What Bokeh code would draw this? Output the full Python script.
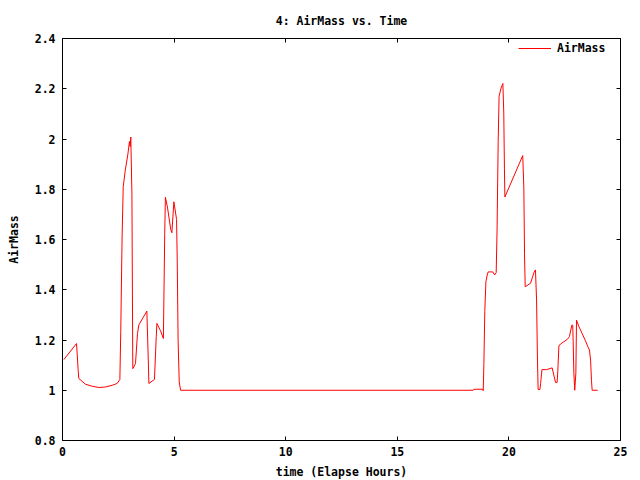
from bokeh.plotting import figure
from bokeh.models import (LinearAxis, FixedTicker, CustomJSTickFormatter,
                          Range1d, Legend, LegendItem)
from bokeh.embed import file_html
from bokeh.resources import INLINE

# ---- data ----
time_hours = [
    0.06, 0.63, 0.70, 0.73, 1.03, 1.33, 1.63, 1.93, 2.23, 2.45, 2.57, 2.61,
    2.67, 2.72, 2.82, 2.93, 3.00, 3.03, 3.06, 3.11, 3.15, 3.27, 3.36, 3.42,
    3.78, 3.85, 3.87, 4.12, 4.20, 4.23, 4.39, 4.52, 4.58, 4.61, 4.70, 4.85,
    4.90, 4.99, 5.11, 5.14, 5.18, 5.23, 5.29,
    18.40, 18.43, 18.82, 18.85, 18.88, 18.92, 18.97, 19.03, 19.07, 19.28,
    19.36, 19.43, 19.47, 19.52, 19.56, 19.65, 19.73, 19.77, 19.80, 19.82,
    20.59, 20.62, 20.67, 20.70, 20.73, 20.97, 21.12, 21.19, 21.24, 21.28,
    21.31, 21.39, 21.42, 21.48, 21.68, 21.94, 21.98, 22.09, 22.16, 22.19,
    22.24, 22.31, 22.46, 22.61, 22.71, 22.82, 22.86, 22.88, 22.91, 22.95,
    23.00, 23.03, 23.13, 23.28, 23.43, 23.54, 23.61, 23.66, 23.70, 23.73,
    23.98,
]
airmass = [
    1.122, 1.186, 1.082, 1.047, 1.024, 1.016, 1.011, 1.013, 1.020, 1.027,
    1.043, 1.233, 1.610, 1.810, 1.880, 1.940, 1.990, 1.970, 2.008, 1.780,
    1.086, 1.106, 1.226, 1.260, 1.315, 1.100, 1.027, 1.043, 1.213, 1.266,
    1.237, 1.206, 1.625, 1.768, 1.730, 1.640, 1.627, 1.750, 1.680, 1.518,
    1.197, 1.033, 1.000,
    1.000, 1.004, 1.004, 0.998, 1.106, 1.313, 1.432, 1.459, 1.471, 1.471,
    1.459, 1.468, 1.638, 1.991, 2.170, 2.203, 2.221, 2.104, 1.884, 1.769,
    1.928, 1.934, 1.805, 1.543, 1.412, 1.426, 1.468, 1.479, 1.359, 1.120,
    1.003, 1.003, 1.027, 1.082, 1.082, 1.089, 1.073, 1.031, 1.031, 1.073,
    1.176, 1.184, 1.193, 1.202, 1.213, 1.259, 1.259, 1.193, 1.069, 1.000,
    1.069, 1.279, 1.255, 1.226, 1.197, 1.173, 1.160, 1.120, 1.040, 1.000,
    1.000,
]
x_ticks = [0, 5, 10, 15, 20, 25]
y_ticks = [0.8, 1.0, 1.2, 1.4, 1.6, 1.8, 2.0, 2.2, 2.4]
title_text = "4: AirMass vs. Time"
x_label = "time (Elapse Hours)"
y_label = "AirMass"
series_name = "AirMass"

FONT = "DejaVu Sans Mono"
FS = "11.5px"

p = figure(
    frame_width=558, frame_height=402,
    min_border_left=62, min_border_right=20,
    min_border_top=38, min_border_bottom=40,
    x_range=Range1d(0, 25), y_range=Range1d(0.8, 2.4),
    output_backend="svg", toolbar_location=None,
    background_fill_color="white", border_fill_color="white",
)
p.xgrid.visible = False
p.ygrid.visible = False
p.outline_line_color = "black"
p.outline_line_width = 1

p.title.text = title_text
p.title.align = "center"
p.title.text_font = FONT
p.title.text_font_size = FS
p.title.text_font_style = "bold"
p.title.text_color = "black"
p.title.standoff = 21

num_fmt = CustomJSTickFormatter(code="return String(Number(tick.toFixed(1)));")
blank_fmt = CustomJSTickFormatter(code="return '';")


def style_axis(ax, ticks, fmt):
    ax.ticker = FixedTicker(ticks=ticks)
    ax.formatter = fmt
    ax.axis_line_color = None
    ax.major_tick_in = 4
    ax.major_tick_out = 0
    ax.major_tick_line_color = "black"
    ax.minor_tick_line_color = None
    ax.major_label_text_font = FONT
    ax.major_label_text_font_size = FS
    ax.major_label_text_font_style = "bold"
    ax.major_label_text_color = "black"
    ax.axis_label_text_font = FONT
    ax.axis_label_text_font_size = FS
    ax.axis_label_text_font_style = "bold"
    ax.axis_label_text_color = "black"


xa = p.xaxis[0]
style_axis(xa, x_ticks, num_fmt)
xa.axis_label = x_label
xa.major_label_standoff = 6
xa.axis_label_standoff = 6

ya = p.yaxis[0]
style_axis(ya, y_ticks, num_fmt)
ya.axis_label = y_label
ya.major_label_standoff = 7
ya.axis_label_standoff = 11
ya.major_label_orientation = "horizontal"

top_ax = LinearAxis()
style_axis(top_ax, x_ticks, blank_fmt)
top_ax.major_label_standoff = 0
p.add_layout(top_ax, "above")

right_ax = LinearAxis()
style_axis(right_ax, y_ticks, blank_fmt)
right_ax.major_label_standoff = 0
p.add_layout(right_ax, "right")

r = p.line(time_hours, airmass, line_color="red", line_width=1)

legend = Legend(items=[LegendItem(label=series_name, renderers=[r])],
                location=(456, 385))
legend.border_line_color = None
legend.background_fill_alpha = 0
legend.padding = 0
legend.margin = 0
legend.glyph_width = 33
legend.glyph_height = 14
legend.label_height = 14
legend.label_standoff = 6
legend.label_text_font = FONT
legend.label_text_font_size = FS
legend.label_text_font_style = "bold"
legend.label_text_color = "black"
p.add_layout(legend)

open("out.html", "w").write(file_html(p, INLINE))
